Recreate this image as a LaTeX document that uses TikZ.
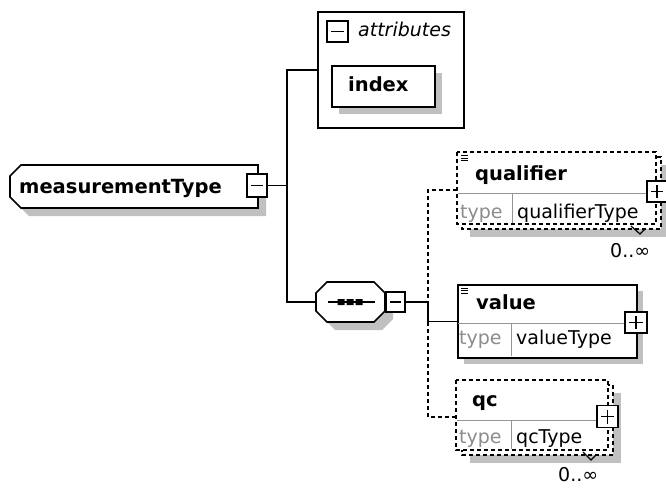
\documentclass[tikz,border=0pt]{standalone}
\usepackage{fontspec}
\setmainfont{DejaVu Sans}
\definecolor{shd}{RGB}{192,192,192}
\definecolor{divg}{RGB}{150,150,150}
\definecolor{typeg}{RGB}{140,140,140}
\begin{document}
\begin{tikzpicture}[x=1pt,y=-1pt,
  outl/.style={line width=1.7pt, draw=black},
  dsh/.style={dash pattern=on 4pt off 3pt},
  conn/.style={line width=1.7pt},
  divline/.style={draw=divg, line width=1pt},
  lbl/.style={inner sep=0pt, anchor=base west, font=\fontsize{19}{22}\selectfont},
  blbl/.style={lbl, font=\fontsize{19.5}{22}\selectfont\bfseries},
  tlbl/.style={lbl, text=typeg},
  anchorbox/.style={draw=none, inner sep=0pt, anchor=north west},
  pmbox/.style={draw, fill=white, line width=1.5pt, minimum width=20pt, minimum height=21pt, inner sep=0pt},
  minusbox/.style={pmbox, path picture={\draw[line width=1.5pt] ([xshift=4pt]path picture bounding box.west) -- ([xshift=-4pt]path picture bounding box.east);}},
  plusbox/.style={pmbox, path picture={\draw[line width=1.5pt] ([xshift=4pt]path picture bounding box.west) -- ([xshift=-4pt]path picture bounding box.east) ([yshift=-4pt]path picture bounding box.north) -- ([yshift=4pt]path picture bounding box.south);}},
  notch/.style={line width=1.2pt},
]
\useasboundingbox (0,0) rectangle (666,487);
\clip (0,0) rectangle (666,487);

% ---------- measurementType ----------
\fill[shd] (29,173) -- (266,173) -- (266,216) -- (29,216) -- (18,205) -- (18,184) -- cycle;
\draw[outl, fill=white] (21,165) -- (258,165) -- (258,208) -- (21,208) -- (10,197) -- (10,176) -- cycle;
\node[anchorbox, minimum width=248pt, minimum height=43pt] (mt) at (10,165) {};
\node[blbl] (mtlbl) at (19,193) {measurementType};
\node[minusbox, minimum height=23pt] (mtm) at (257,185.5) {};

% ---------- attributes ----------
\node[draw, line width=1.7pt, anchor=north west, minimum width=146pt, minimum height=116pt, inner sep=0pt] (attr) at (317,11) {};
\node[minusbox, minimum width=21pt, minimum height=21pt] (attrm) at (337.5,31.5) {};
\node[lbl, font=\fontsize{19}{22}\selectfont\itshape] (attrlbl) at (358,37) {attributes};
\fill[shd] (339,73) rectangle (442,114);
\node[draw, line width=1.7pt, fill=white, anchor=north west, minimum width=103pt, minimum height=41pt, inner sep=0pt] (idx) at (331,65) {};
\node[blbl] (idxlbl) at (348,92) {index};

% ---------- sequence ----------
\begin{scope}[shift={(8,8)}]
\fill[shd] (327,282) -- (374,282) -- (385,293) -- (385,311) -- (374,322) -- (327,322) -- (316,311) -- (316,293) -- cycle;
\end{scope}
\draw[outl, fill=white] (327,282) -- (374,282) -- (385,293) -- (385,311) -- (374,322) -- (327,322) -- (316,311) -- (316,293) -- cycle;
\node[anchorbox, minimum width=69pt, minimum height=40pt] (seq) at (316,282) {};
\draw[line width=1.7pt] (328,302) -- (375,302);
\fill (337.5,299) rectangle (344.5,305) (346.5,299) rectangle (353.5,305) (355.5,299) rectangle (362.5,305);
\node[minusbox, minimum width=19pt, minimum height=20pt] (seqm) at (395.5,302) {};

% ---------- connectors from measurementType ----------
\coordinate (j1) at (287,185.5);
\draw[conn] (mtm.east) -- (j1);
\draw[conn] (j1) |- (attr.west);
\draw[conn] (j1) |- (seq.west);

% ---------- qualifier ----------
\fill[shd] (470,165) rectangle (669,237);
\draw[outl, dsh, fill=white] (462,157) rectangle (661,229);
\draw[outl, dsh, fill=white] (457,152) rectangle (656,224);
\node[anchorbox, minimum width=199pt, minimum height=76pt] (qual) at (457,152) {};
\draw[divline] (458,193) -- (655,193);
\draw[divline] (512,193) -- (512,223);
\draw[line width=1pt] (461,155.5) -- (468,155.5) (461,158) -- (468,158) (461,160.5) -- (468,160.5);
\node[blbl] (quallbl) at (475,180) {qualifier};
\node[tlbl] (qualtype) at (460,218) {type};
\node[lbl] (qualtyp) at (517,218) {qualifierType};
\node[plusbox] (qualp) at (657,191.5) {};
\draw[notch] (631,226) -- (640,234) -- (645,229);
\node[lbl] (qualocc) at (610,257) {0..∞};

% ---------- value ----------
\fill[shd] (464,291) rectangle (643,364);
\node[draw, line width=1.7pt, fill=white, anchor=north west, minimum width=179pt, minimum height=73pt, inner sep=0pt] (val) at (457,284) {};
\draw[divline] (458,323) -- (635,323);
\draw[divline] (511,323) -- (511,356);
\draw[line width=1pt] (461,288) -- (468,288) (461,290.5) -- (468,290.5) (461,293) -- (468,293);
\node[blbl] (vallbl) at (476,309) {value};
\node[tlbl] (valtype) at (459,344) {type};
\node[lbl] (valtyp) at (516,344) {valueType};
\node[plusbox, minimum width=22pt] (valp) at (636,322.5) {};

% ---------- qc ----------
\fill[shd] (470,393) rectangle (621,463);
\draw[outl, dsh, fill=white] (462,385) rectangle (613,455);
\draw[outl, dsh, fill=white] (456,380) rectangle (608,450);
\node[anchorbox, minimum width=152pt, minimum height=74pt] (qc) at (456,380) {};
\draw[divline] (457,420) -- (607,420);
\draw[divline] (511,420) -- (511,449);
\node[blbl] (qclbl) at (472,406) {qc};
\node[tlbl] (qctype) at (459,443) {type};
\node[lbl] (qctyp) at (516,443) {qcType};
\node[plusbox, minimum width=21pt, minimum height=22pt] (qcp) at (607.5,416.5) {};
\draw[notch] (583,452) -- (591,460) -- (596,455);
\node[lbl] (qcocc) at (558,481) {0..∞};

% ---------- connectors from sequence ----------
\coordinate (j2) at (428,302);
\draw[conn, dsh] (qual.west) -| (j2) |- (qc.west);
\draw[conn] (seqm.east) -- (j2);
\draw[conn] (j2) |- (val.west);
\end{tikzpicture}
\end{document}
